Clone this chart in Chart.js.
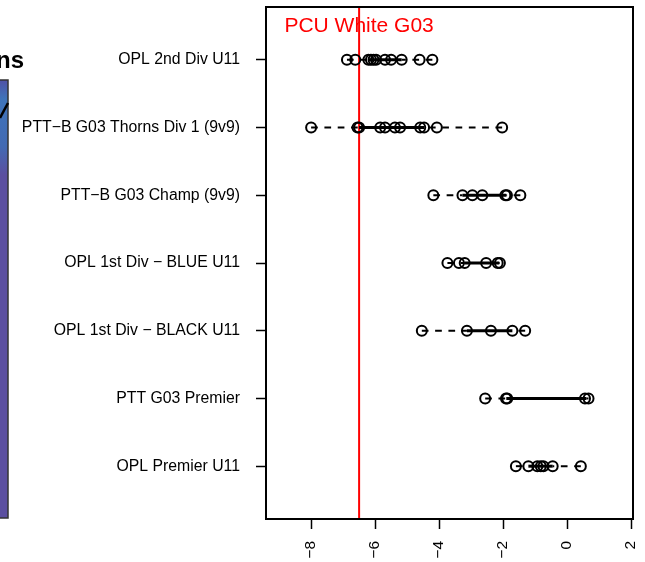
<!DOCTYPE html>
<html>
<head>
<meta charset="utf-8">
<script src="https://cdn.jsdelivr.net/npm/chart.js@4.4.0/dist/chart.umd.min.js"></script>
<style>
  html, body { margin: 0; padding: 0; background: #fff; }
  #wrap { width: 645px; height: 562px; }
</style>
</head>
<body>
<div id="wrap"><canvas id="chart" width="645" height="562"></canvas></div>
<script>
// Dot plot of league ratings, top row first
const categories = [
    'OPL 2nd Div U11',
    'PTT\u2212B G03 Thorns Div 1 (9v9)',
    'PTT\u2212B G03 Champ (9v9)',
    'OPL 1st Div \u2212 BLUE U11',
    'OPL 1st Div \u2212 BLACK U11',
    'PTT G03 Premier',
    'OPL Premier U11'
];

const opl2ndDiv   = [-6.88, -6.62, -6.21, -6.13, -6.05, -5.97, -5.69, -5.5, -5.17, -4.61, -4.21];
const thornsDiv1  = [-8.0, -6.55, -6.5, -5.84, -5.69, -5.38, -5.22, -4.59, -4.47, -4.07, -2.03];
const champ       = [-4.18, -3.27, -2.96, -2.65, -1.93, -1.88, -1.46];
const opl1stBlue  = [-3.74, -3.38, -3.2, -2.53, -2.17, -2.1];
const opl1stBlack = [-4.54, -3.13, -2.38, -1.71, -1.31];
const pttPremier  = [-2.56, -1.91, -1.87, 0.56, 0.67];
const oplPremier  = [-1.6, -1.21, -0.93, -0.82, -0.74, -0.45, 0.43];

// solid middle segment of each row
const boxLow  = [-6.21, -6.5, -3.27, -3.2, -3.13, -1.9, -1.21];
const boxHigh = [-5.17, -4.47, -1.9, -2.12, -1.71, 0.6, -0.45];

const xTicks = [-8, -6, -4, -2, 0, 2];
const refLineX = -6.5;
const refLabel = 'PCU White G03';

(function() {
    const rows = [opl2ndDiv, thornsDiv1, champ, opl1stBlue, opl1stBlack, pttPremier, oplPremier];
    const n = categories.length;
    const yMin = 0.22, yMax = n + 0.78;
    const font = '"Liberation Sans", Arial, Helvetica, sans-serif';
    const rowY = i => n - i;

    const points = [];
    rows.forEach((vals, i) => vals.forEach(v => points.push({ x: v, y: rowY(i) })));

    const datasets = [{
        type: 'scatter',
        data: points,
        pointStyle: 'circle',
        pointRadius: 5,
        pointBorderWidth: 2,
        pointBorderColor: '#000',
        pointBackgroundColor: 'rgba(0,0,0,0)',
        showLine: false
    }];

    rows.forEach((vals, i) => {
        const y = rowY(i);
        const lo = Math.min(...vals), hi = Math.max(...vals);
        const seg = (a, b, dashed) => ({
            type: 'line',
            data: [{ x: a, y: y }, { x: b, y: y }],
            borderColor: '#000',
            borderWidth: dashed ? 2 : 3,
            borderDash: dashed ? [6.7, 6.6] : [],
            pointRadius: 0,
            fill: false
        });
        datasets.push(seg(boxLow[i], boxHigh[i], false));
        // whiskers run from the extreme value in towards the middle segment
        datasets.push(seg(lo, boxLow[i], true));
        datasets.push(seg(hi, boxHigh[i], true));
    });

    datasets.push({
        type: 'line',
        data: [{ x: refLineX, y: yMin }, { x: refLineX, y: yMax }],
        borderColor: '#ff0000',
        borderWidth: 2,
        pointRadius: 0,
        fill: false
    });

    const noPadding = scale => {
        scale.paddingTop = 0;
        scale.paddingBottom = 0;
        scale.paddingLeft = 0;
        scale.paddingRight = 0;
    };

    const framePlugin = {
        id: 'frame',
        beforeDraw(chart) {
            const ctx = chart.ctx;
            ctx.save();
            // edge of the neighbouring panel, cut off on the left
            ctx.fillStyle = '#5b4fa0';
            ctx.fillRect(0, 80, 8, 438);
            const g = ctx.createLinearGradient(0, 80, 0, 175);
            g.addColorStop(0, '#5052a6');
            g.addColorStop(0.2, '#3f74ba');
            g.addColorStop(0.7, '#426ab3');
            g.addColorStop(1, '#5b4fa0');
            ctx.fillStyle = g;
            ctx.fillRect(0, 80, 8, 95);
            ctx.strokeStyle = '#333';
            ctx.lineWidth = 1.5;
            ctx.strokeRect(-2, 80, 10, 438);
            ctx.strokeStyle = '#000';
            ctx.lineWidth = 2.5;
            ctx.beginPath();
            ctx.moveTo(0, 118);
            ctx.lineTo(8, 103);
            ctx.stroke();
            ctx.fillStyle = '#000';
            ctx.font = 'bold 24px ' + font;
            ctx.textAlign = 'right';
            ctx.textBaseline = 'alphabetic';
            ctx.fillText('ns', 24, 68);
            ctx.restore();
        },
        afterDatasetsDraw(chart) {
            const { ctx, chartArea, scales } = chart;
            ctx.save();
            ctx.strokeStyle = '#000';
            ctx.lineWidth = 2;
            ctx.strokeRect(chartArea.left, chartArea.top, chartArea.right - chartArea.left, chartArea.bottom - chartArea.top);
            ctx.fillStyle = '#ff0000';
            ctx.font = '21px ' + font;
            ctx.textAlign = 'center';
            ctx.textBaseline = 'alphabetic';
            ctx.fillText(refLabel, scales.x.getPixelForValue(refLineX), 32);
            ctx.restore();
        }
    };

    new Chart(document.getElementById('chart'), {
        type: 'scatter',
        data: { datasets: datasets },
        options: {
            responsive: false,
            animation: false,
            layout: { padding: { left: 0, right: 12, top: 4, bottom: 0 } },
            plugins: { legend: { display: false }, tooltip: { enabled: false } },
            scales: {
                x: {
                    type: 'linear',
                    min: -9.41,
                    max: 2.06,
                    afterBuildTicks: scale => { scale.ticks = xTicks.map(v => ({ value: v })); },
                    afterFit: scale => { scale.height = 43; noPadding(scale); },
                    grid: { drawOnChartArea: false, drawTicks: true, tickLength: 10, tickColor: '#000', tickWidth: 1.5 },
                    border: { display: true, color: '#000', width: 2 },
                    ticks: {
                        color: '#000',
                        font: { family: font, size: 15.5 },
                        minRotation: 90,
                        maxRotation: 90,
                        padding: 12,
                        callback: v => String(v).replace('-', '\u2212')
                    }
                },
                y: {
                    type: 'linear',
                    min: yMin,
                    max: yMax,
                    afterBuildTicks: scale => { scale.ticks = categories.map((c, i) => ({ value: rowY(i) })); },
                    afterFit: scale => { scale.width = 266; noPadding(scale); },
                    grid: { drawOnChartArea: false, drawTicks: true, tickLength: 10, tickColor: '#000', tickWidth: 1.5 },
                    border: { display: true, color: '#000', width: 2 },
                    ticks: {
                        color: '#000',
                        font: { family: font, size: 15.8 },
                        padding: 16,
                        callback: v => categories[n - v]
                    }
                }
            }
        },
        plugins: [framePlugin]
    });
})();
</script>
</body>
</html>
